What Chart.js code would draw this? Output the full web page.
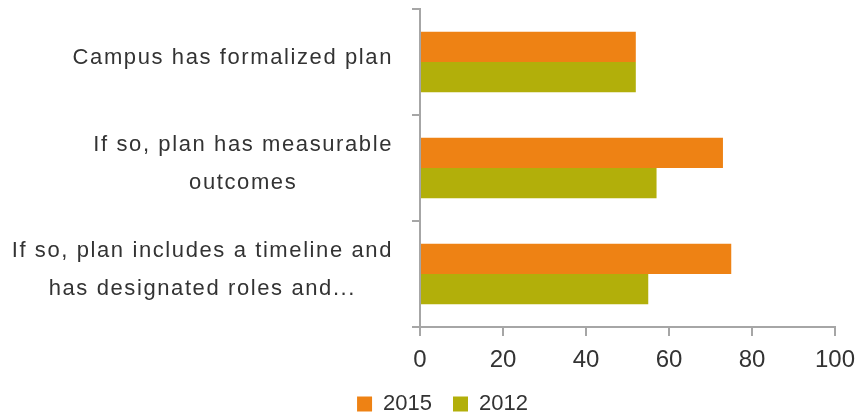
<!DOCTYPE html>
<html lang="en">
<head>
    <meta charset="UTF-8">
    <title>Campus plan chart</title>
    <script src="https://cdn.jsdelivr.net/npm/chart.js"></script>
    <style>
        body { margin: 0; background: #fff; }
        #wrap { width: 862px; height: 417px; }
    </style>
</head>
<body>
    <div id="wrap"><canvas id="myChart" width="862" height="417"></canvas></div>
    <script>
        // categories (multi-line labels) and series values
        const categories = [
            ['Campus has formalized plan'],
            ['If so, plan has measurable', 'outcomes'],
            ['If so, plan includes a timeline and', 'has designated roles and...']
        ];
        const values2015 = [52, 73, 75];
        const values2012 = [52, 57, 55];
        const xTicks = [0, 20, 40, 60, 80, 100];

        const textColor = '#333333';
        const axisColor = '#a6a6a6';

        // category labels: block right-aligned, lines centred inside the block (like the original)
        const categoryLabels = {
            id: 'categoryLabels',
            afterDraw(chart) {
                const ctx = chart.ctx;
                const yScale = chart.scales.y;
                const right = yScale.right - 27;
                const lineH = 38;
                ctx.save();
                ctx.font = '22px "Liberation Sans"';
                ctx.letterSpacing = '1.6px';
                ctx.fillStyle = textColor;
                ctx.textAlign = 'center';
                ctx.textBaseline = 'middle';
                categories.forEach((lines, i) => {
                    const yc = yScale.getPixelForTick(i) - 4;
                    const block = Math.max(...lines.map(l => ctx.measureText(l).width));
                    const cx = right - block / 2;
                    lines.forEach((line, j) => {
                        ctx.fillText(line, cx, yc + (j - (lines.length - 1) / 2) * lineH);
                    });
                });
                ctx.restore();
            }
        };

        const ctx = document.getElementById('myChart').getContext('2d');
        const myChart = new Chart(ctx, {
            type: 'bar',
            data: {
                labels: categories.map(l => l.join(' ')),
                datasets: [{
                    label: '2015',
                    data: values2015,
                    backgroundColor: '#ee8214',
                    categoryPercentage: 0.57,
                    barPercentage: 1
                }, {
                    label: '2012',
                    data: values2012,
                    backgroundColor: '#b2af0a',
                    categoryPercentage: 0.57,
                    barPercentage: 1
                }]
            },
            options: {
                indexAxis: 'y',
                responsive: false,
                animation: false,
                layout: { padding: { top: 9, right: 27, bottom: -8, left: 50 } },
                scales: {
                    x: {
                        min: 0,
                        max: 100,
                        afterBuildTicks: scale => { scale.ticks = xTicks.map(v => ({ value: v })); },
                        afterFit: scale => {
                            scale.height = 45;
                            scale.paddingLeft = 0;
                            scale.paddingRight = 0;
                        },
                        grid: { drawOnChartArea: false, color: axisColor, tickLength: 9, lineWidth: 2 },
                        border: { color: axisColor, width: 2 },
                        ticks: { color: textColor, font: { family: 'Liberation Sans', size: 24 }, padding: 10 }
                    },
                    y: {
                        afterFit: scale => {
                            scale.width = 370;
                            scale.paddingTop = 0;
                            scale.paddingBottom = 0;
                        },
                        grid: { drawOnChartArea: false, color: axisColor, tickLength: 8, lineWidth: 2 },
                        border: { color: axisColor, width: 2 },
                        ticks: { display: false }
                    }
                },
                plugins: {
                    legend: {
                        position: 'bottom',
                        labels: {
                            color: textColor,
                            font: { family: 'Liberation Sans', size: 22 },
                            boxWidth: 15,
                            boxHeight: 15,
                            padding: 21
                        }
                    },
                    tooltip: { enabled: false }
                }
            },
            plugins: [categoryLabels]
        });
    </script>
</body>
</html>
